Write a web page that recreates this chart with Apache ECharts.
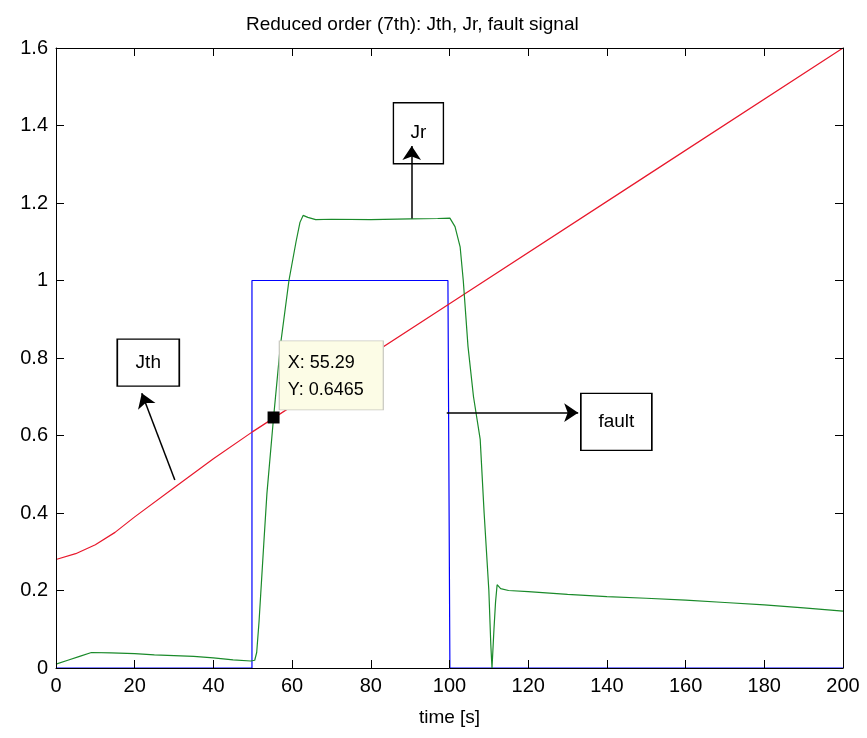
<!DOCTYPE html>
<html>
<head>
<meta charset="utf-8">
<script src="https://cdn.jsdelivr.net/npm/echarts@6/dist/echarts.min.js"></script>
<style>
  html, body { margin: 0; padding: 0; background: #fff; }
  #main { width: 867px; height: 738px; }
</style>
</head>
<body>
<div id="main"></div>
<script>
// Jth threshold (red)
const jthTime = [0, 5, 10, 15, 20, 30, 40, 50, 100, 150, 200];
const jthVal = [0.28, 0.295, 0.318, 0.35, 0.39, 0.465, 0.54, 0.61, 0.94, 1.27, 1.6];

// fault signal (blue)
const faultTime = [0, 49.8, 49.8, 99.6, 100.1, 200];
const faultVal = [0, 0, 1, 1, 0, 0];

// Jr residual (green)
const jrTime = [0, 3, 6, 9, 14, 20, 25, 30, 35, 40, 45, 49.5, 50.5, 51, 51.6, 52.2, 52.8, 53.6, 55.29, 57, 59.2,
  61, 62, 62.8, 64, 66, 70, 80, 90, 97, 100.1, 101.4, 102.7, 103.5, 104.7, 106.1, 107.8, 108.8, 110,
  110.5, 110.8, 111.3, 111.7, 112.1, 113, 115, 120, 130, 140, 150, 160, 170, 180, 190, 200];
const jrVal = [0.01, 0.02, 0.03, 0.04, 0.039, 0.037, 0.034, 0.032, 0.03, 0.026, 0.021, 0.018, 0.02, 0.04, 0.12, 0.22, 0.32,
  0.45, 0.6465, 0.83, 1.0, 1.1, 1.15, 1.168, 1.163, 1.157, 1.158, 1.157, 1.159, 1.16, 1.161, 1.139, 1.087,
  1.0, 0.83, 0.70, 0.59, 0.40, 0.2, 0.06, 0.0, 0.1, 0.17, 0.215, 0.205, 0.2, 0.197, 0.19, 0.184, 0.18,
  0.175, 0.169, 0.163, 0.155, 0.147];

const xTicks = [0, 20, 40, 60, 80, 100, 120, 140, 160, 180, 200];
const yTicks = [0, 0.2, 0.4, 0.6, 0.8, 1, 1.2, 1.4, 1.6];

// text boxes and arrows, in data coordinates
const labelBoxes = [
  { name: 'Jth', coord: [23.45, 0.788], size: [62, 47] },
  { name: 'Jr', coord: [92.1, 1.38], size: [50, 61] },
  { name: 'fault', coord: [142.4, 0.635], size: [71, 57] }
];
const arrows = [
  [[30.2, 0.485], [21.8, 0.709]],
  [[90.4, 1.16], [90.4, 1.347]],
  [[99.3, 0.659], [132.7, 0.659]]
];
const dataTip = { x: 55.29, y: 0.6465, boxCoord: [69.96, 0.755] };

function zip(t, v) {
  return t.map((x, i) => [x, v[i]]);
}

const font = 'Liberation Sans';

function axisBase(show) {
  return {
    type: 'value',
    z: 10,
    axisLine: { show: true, onZero: false, lineStyle: { color: '#000', width: 1 } },
    axisTick: { show: true, inside: true, length: 8, lineStyle: { color: '#000' } },
    axisLabel: { show: show, color: '#000', fontFamily: font, fontSize: 20, margin: 8 },
    splitLine: { show: false }
  };
}

const xMain = Object.assign(axisBase(true), {
  min: xTicks[0], max: xTicks[xTicks.length - 1], interval: xTicks[1] - xTicks[0],
  name: 'time [s]', nameLocation: 'middle', nameGap: 40,
  nameTextStyle: { color: '#000', fontFamily: font, fontSize: 19 }
});
const xTop = Object.assign(axisBase(false), {
  position: 'top', min: xTicks[0], max: xTicks[xTicks.length - 1], interval: xTicks[1] - xTicks[0]
});
const yMain = Object.assign(axisBase(true), {
  min: yTicks[0], max: yTicks[yTicks.length - 1], interval: 0.2
});
const yRight = Object.assign(axisBase(false), {
  position: 'right', min: yTicks[0], max: yTicks[yTicks.length - 1], interval: 0.2
});

const myChart = echarts.init(document.getElementById('main'));

const option = {
  backgroundColor: '#fff',
  animation: false,
  title: {
    text: 'Reduced order (7th): Jth, Jr, fault signal',
    left: 241,
    top: 10,
    textStyle: { color: '#000', fontFamily: font, fontSize: 19, fontWeight: 'normal' }
  },
  grid: { left: 56, right: 24, top: 48, bottom: 70 },
  xAxis: [xMain, xTop],
  yAxis: [yMain, yRight],
  series: [
    {
      name: 'fault',
      type: 'line',
      data: zip(faultTime, faultVal),
      showSymbol: false,
      lineStyle: { color: '#0000ff', width: 1.2 },
      z: 3
    },
    {
      name: 'Jth',
      type: 'line',
      data: zip(jthTime, jthVal),
      showSymbol: false,
      lineStyle: { color: '#e8182c', width: 1.2 },
      z: 3
    },
    {
      name: 'Jr',
      type: 'line',
      data: zip(jrTime, jrVal),
      showSymbol: false,
      lineStyle: { color: '#1a8a2a', width: 1.2 },
      z: 4,
      markPoint: {
        silent: true,
        z: 5,
        data: labelBoxes.map(b => ({
          name: b.name,
          coord: b.coord,
          symbol: 'rect',
          symbolSize: b.size,
          itemStyle: { color: '#fff', borderColor: '#000', borderWidth: 1.5 },
          label: {
            show: true, position: 'inside', formatter: b.name,
            color: '#000', fontFamily: font, fontSize: 19
          }
        })).concat([
          {
            name: 'tip',
            coord: dataTip.boxCoord,
            symbol: 'rect',
            symbolSize: [104, 69],
            itemStyle: { color: '#fcfce6', borderColor: '#c8c8c0', borderWidth: 1 },
            label: {
              show: true, position: [9, 9], align: 'left', verticalAlign: 'top',
              formatter: 'X: ' + dataTip.x + '\nY: ' + dataTip.y,
              color: '#000', fontFamily: font, fontSize: 18, lineHeight: 27
            }
          },
          {
            name: 'marker',
            coord: [dataTip.x, dataTip.y],
            symbol: 'rect',
            symbolSize: 12,
            itemStyle: { color: '#000' },
            label: { show: false }
          }
        ])
      }
    },
    {
      name: 'arrows',
      type: 'line',
      data: [],
      z: 8,
      markLine: {
        silent: true,
        z: 8,
        symbol: ['none', 'arrow'],
        symbolSize: 14,
        label: { show: false },
        lineStyle: { color: '#000', width: 1.5, type: 'solid' },
        data: arrows.map(a => [{ coord: a[0] }, { coord: a[1] }])
      }
    }
  ]
};

myChart.setOption(option);
</script>
</body>
</html>
